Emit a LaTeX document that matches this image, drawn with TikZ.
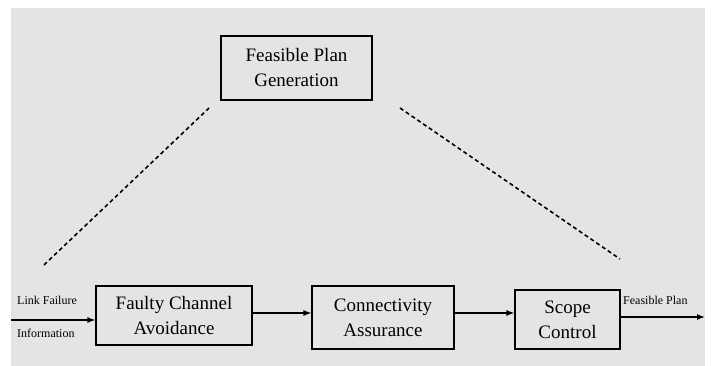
\documentclass[tikz,border=0pt]{standalone}
\usepackage{fontspec}
\setmainfont{Liberation Serif}
\usetikzlibrary{arrows.meta}
\definecolor{bggray}{RGB}{228,228,228}

\begin{document}
\begin{tikzpicture}[x=1pt, y=-1pt,
    blok/.style={draw, line width=1.2pt, align=center, inner sep=0pt,
        font=\fontsize{19}{25}\selectfont},
    lbl/.style={font=\fontsize{12}{13}\selectfont, inner sep=0pt, anchor=west},
    flow/.style={line width=1.2pt, -{Latex[length=8pt, width=6pt]}},
    hint/.style={line width=1.6pt, dash pattern=on 4pt off 3pt}]
\useasboundingbox (0,0) rectangle (712,366);
\fill[bggray] (11,8) rectangle (705,366);
% boxes
\node[blok, minimum width=151, minimum height=64] (plan) at (296.5,68) {Feasible Plan\\Generation};
\node[blok, minimum width=156, minimum height=59] (fca) at (174,315.5) {Faulty Channel\\Avoidance};
\node[blok, minimum width=142, minimum height=63] (conn) at (383,317.5) {Connectivity\\Assurance};
\node[blok, minimum width=105, minimum height=59] (scope) at (567.5,319.5) {Scope\\Control};
% side texts
\node[lbl] (lfa) at (17,300) {Link Failure};
\node[lbl] (lfb) at (17,333) {Information};
\node[lbl] (fpo) at (623,300) {Feasible Plan};
% flow
\coordinate (lin) at (11,320);
\coordinate (mid) at (0,313);
\coordinate (lout) at (705,317);
\draw[flow] (lin) -- (fca.west |- lin);
\draw[flow] (fca.east |- mid) -- (conn.west |- mid);
\draw[flow] (conn.east |- mid) -- (scope.west |- mid);
\draw[flow] (scope.east |- lout) -- (lout);
% dashed guides
\coordinate (dla) at (44,265);
\coordinate (dlb) at (209,108);
\coordinate (dra) at (400,108);
\coordinate (drb) at (620,259);
\draw[hint] (dla) -- (dlb);
\draw[hint] (dra) -- (drb);
\end{tikzpicture}
\end{document}
